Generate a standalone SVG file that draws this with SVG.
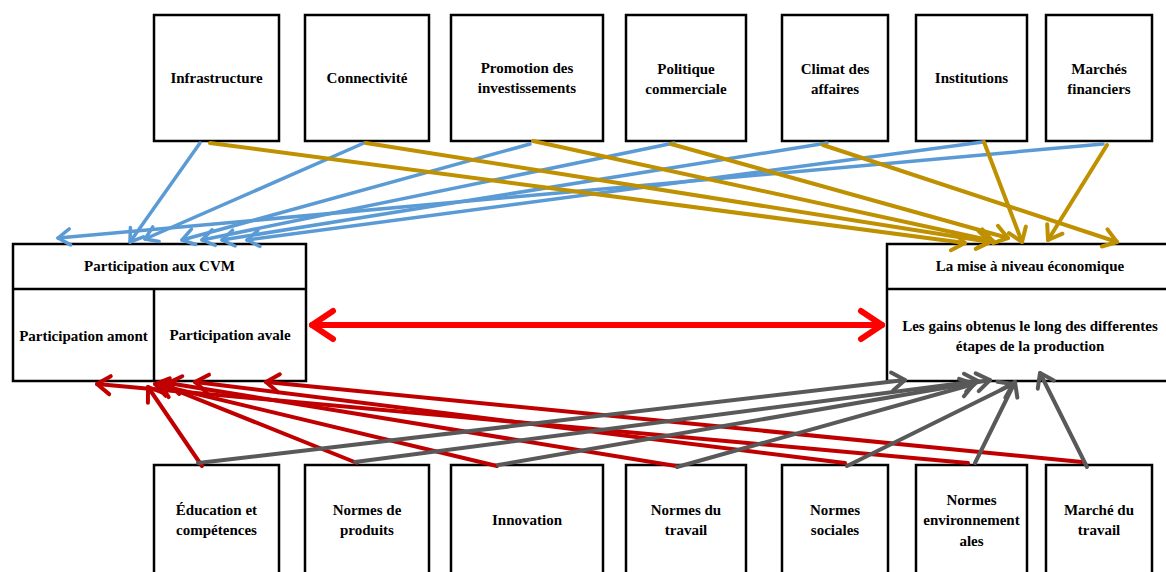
<svg xmlns="http://www.w3.org/2000/svg" width="1166" height="572" viewBox="0 0 1166 572">
<style>
.box{fill:#fff;stroke:#000;stroke-width:2.5}
.div{stroke:#000;stroke-width:2.5}
text{font-family:"Liberation Serif","Times New Roman",serif;font-weight:bold;font-size:15px;fill:#000;text-anchor:middle}
.c{fill:none;stroke-linecap:round}
.blue{stroke:#5B9BD5;stroke-width:3.5;marker-end:url(#mb)}
.gold{stroke:#BF9000;stroke-width:4;marker-end:url(#mg)}
.red{stroke:#C00000;stroke-width:4;marker-end:url(#mr)}
.gray{stroke:#595959;stroke-width:4;marker-end:url(#my)}
.dbl{stroke:#FF0000;stroke-width:6;marker-start:url(#md);marker-end:url(#md)}
</style>
<defs>
<marker id="mb" markerUnits="userSpaceOnUse" markerWidth="30" markerHeight="30" refX="0" refY="0" orient="auto" overflow="visible"><path d="M-12,-8 L0,0 L-12,8" fill="none" stroke="#5B9BD5" stroke-width="3.5" stroke-linecap="round" stroke-linejoin="round"/></marker>
<marker id="mg" markerUnits="userSpaceOnUse" markerWidth="30" markerHeight="30" refX="0" refY="0" orient="auto" overflow="visible"><path d="M-13,-9 L0,0 L-13,9" fill="none" stroke="#BF9000" stroke-width="4" stroke-linecap="round" stroke-linejoin="round"/></marker>
<marker id="mr" markerUnits="userSpaceOnUse" markerWidth="30" markerHeight="30" refX="0" refY="0" orient="auto" overflow="visible"><path d="M-13,-9 L0,0 L-13,9" fill="none" stroke="#C00000" stroke-width="4" stroke-linecap="round" stroke-linejoin="round"/></marker>
<marker id="my" markerUnits="userSpaceOnUse" markerWidth="30" markerHeight="30" refX="0" refY="0" orient="auto" overflow="visible"><path d="M-13,-9 L0,0 L-13,9" fill="none" stroke="#595959" stroke-width="4" stroke-linecap="round" stroke-linejoin="round"/></marker>
<marker id="md" markerUnits="userSpaceOnUse" markerWidth="40" markerHeight="40" refX="0" refY="0" orient="auto-start-reverse" overflow="visible"><path d="M-21,-14 L0,0 L-21,14" fill="none" stroke="#FF0000" stroke-width="6" stroke-linecap="round" stroke-linejoin="round"/></marker>
</defs>

<g id="n-infrastructure"><rect class="box" x="154" y="15" width="125" height="126"/><text x="216.5" y="83">Infrastructure</text></g>
<g id="n-connectivite"><rect class="box" x="305" y="15" width="124" height="126"/><text x="367" y="83">Connectivité</text></g>
<g id="n-promotion"><rect class="box" x="451" y="15" width="152" height="126"/><text x="527" y="73">Promotion des</text><text x="527" y="93">investissements</text></g>
<g id="n-politique"><rect class="box" x="626" y="15" width="120" height="126"/><text x="686" y="74">Politique</text><text x="686" y="94">commerciale</text></g>
<g id="n-climat"><rect class="box" x="782" y="15" width="106" height="126"/><text x="835" y="74">Climat des</text><text x="835" y="94">affaires</text></g>
<g id="n-institutions"><rect class="box" x="916" y="15" width="111" height="126"/><text x="971.5" y="83">Institutions</text></g>
<g id="n-marches"><rect class="box" x="1046" y="15" width="106" height="126"/><text x="1099" y="74">Marchés</text><text x="1099" y="94">financiers</text></g>

<g id="n-cvm"><rect class="box" x="13" y="244" width="293" height="137"/><line class="div" x1="13" y1="289" x2="306" y2="289"/><line class="div" x1="154" y1="289" x2="154" y2="381"/><text x="159.5" y="271">Participation aux CVM</text><text x="83.5" y="341">Participation amont</text><text x="230" y="340">Participation avale</text></g>
<g id="n-miseaniveau"><rect class="box" x="887" y="244" width="292" height="137"/><line class="div" x1="887" y1="289" x2="1179" y2="289"/><text x="1030" y="271">La mise à niveau économique</text><text x="1030" y="331">Les gains obtenus le long des differentes</text><text x="1030" y="351">étapes de la production</text></g>

<g id="n-education"><rect class="box" x="154" y="465" width="125" height="130"/><text x="216.5" y="515">Éducation et</text><text x="216.5" y="535">compétences</text></g>
<g id="n-produits"><rect class="box" x="305" y="465" width="124" height="130"/><text x="367" y="515">Normes de</text><text x="367" y="535">produits</text></g>
<g id="n-innovation"><rect class="box" x="451" y="465" width="152" height="130"/><text x="527" y="525">Innovation</text></g>
<g id="n-travail"><rect class="box" x="626" y="465" width="120" height="130"/><text x="686" y="515">Normes du</text><text x="686" y="535">travail</text></g>
<g id="n-sociales"><rect class="box" x="782" y="465" width="106" height="130"/><text x="835" y="515">Normes</text><text x="835" y="535">sociales</text></g>
<g id="n-environnement"><rect class="box" x="916" y="465" width="111" height="130"/><text x="971.5" y="505">Normes</text><text x="971.5" y="525">environnement</text><text x="971.5" y="546">ales</text></g>
<g id="n-marchetravail"><rect class="box" x="1046" y="465" width="106" height="130"/><text x="1099" y="515">Marché du</text><text x="1099" y="535">travail</text></g>

<g id="connectors">
<line class="c blue" x1="200" y1="143" x2="130" y2="242"/>
<line class="c blue" x1="364" y1="143" x2="145" y2="239"/>
<line class="c blue" x1="530" y1="144" x2="182" y2="240"/>
<line class="c blue" x1="674" y1="143" x2="202" y2="240"/>
<line class="c blue" x1="827" y1="143" x2="222" y2="240"/>
<line class="c blue" x1="983" y1="142" x2="247" y2="240"/>
<line class="c blue" x1="1103" y1="144" x2="58" y2="238"/>

<line class="c gold" x1="210" y1="143" x2="965" y2="243"/>
<line class="c gold" x1="366" y1="143" x2="990" y2="242"/>
<line class="c gold" x1="533" y1="141" x2="993" y2="241"/>
<line class="c gold" x1="671" y1="144" x2="1008" y2="238"/>
<line class="c gold" x1="823" y1="145" x2="1117" y2="242"/>
<line class="c gold" x1="984" y1="142" x2="1022" y2="242"/>
<line class="c gold" x1="1107" y1="145" x2="1048" y2="240"/>

<line class="c red" x1="202" y1="466" x2="148" y2="387"/>
<line class="c red" x1="357" y1="463" x2="160" y2="384"/>
<line class="c red" x1="497" y1="466" x2="155" y2="384"/>
<line class="c red" x1="676" y1="466" x2="168" y2="383"/>
<line class="c red" x1="845" y1="463" x2="195" y2="382"/>
<line class="c red" x1="968" y1="463" x2="97" y2="384"/>
<line class="c red" x1="1082" y1="462" x2="266" y2="382"/>

<line class="c gray" x1="198" y1="463" x2="905" y2="380"/>
<line class="c gray" x1="355" y1="462" x2="978" y2="381"/>
<line class="c gray" x1="498" y1="465" x2="990" y2="380"/>
<line class="c gray" x1="677" y1="467" x2="974" y2="384"/>
<line class="c gray" x1="847" y1="466" x2="1013" y2="384"/>
<line class="c gray" x1="975" y1="463" x2="1015" y2="382"/>
<line class="c gray" x1="1087" y1="467" x2="1040" y2="373"/>

<line class="c dbl" x1="312" y1="325" x2="882" y2="325"/>
</g>
</svg>
